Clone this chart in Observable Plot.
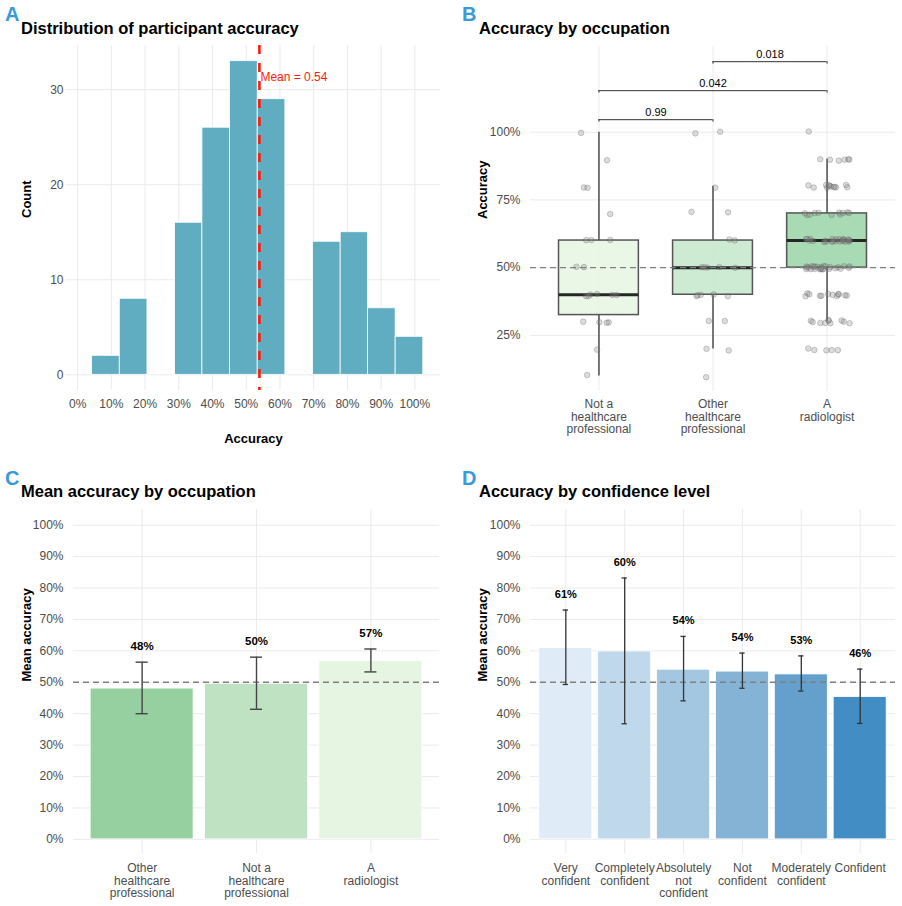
<!DOCTYPE html>
<html>
<head>
<meta charset="utf-8">
<script src="https://cdn.jsdelivr.net/npm/d3@7"></script>
<script src="https://cdn.jsdelivr.net/npm/@observablehq/plot@0.6"></script>
<style>
  body { margin: 0; background: #fff; font-family: "Liberation Sans", Arial, Helvetica, sans-serif; }
  #root { position: relative; width: 902px; height: 906px; overflow: hidden; background: #fff; }
  .panel { position: absolute; }
  .tag { position: absolute; font-weight: bold; font-size: 20px; line-height: 20px; color: #3a9ad9; }
  .title { position: absolute; font-weight: bold; font-size: 16.5px; line-height: 16.5px; color: #000; white-space: nowrap; }
</style>
</head>
<body>
<div id="root">
  <div class="tag" style="left:5px;top:4px">A</div>
  <div class="title" style="left:21px;top:20px">Distribution of participant accuracy</div>
  <div class="tag" style="left:462px;top:4px">B</div>
  <div class="title" style="left:479px;top:20px">Accuracy by occupation</div>
  <div class="tag" style="left:5px;top:468px">C</div>
  <div class="title" style="left:21px;top:483px">Mean accuracy by occupation</div>
  <div class="tag" style="left:462px;top:468px">D</div>
  <div class="title" style="left:479px;top:483px">Accuracy by confidence level</div>
  <div class="panel" id="pA" style="left:0px;top:40px"></div>
  <div class="panel" id="pB" style="left:450px;top:40px"></div>
  <div class="panel" id="pC" style="left:0px;top:500px"></div>
  <div class="panel" id="pD" style="left:450px;top:500px"></div>
</div>
<script>
// ---------------- Data ----------------
// Panel A: histogram of participant accuracy
const binStart = [0.043, 0.125, 0.207, 0.289, 0.370, 0.452, 0.534, 0.616, 0.698, 0.780, 0.861, 0.943];
const binEnd   = [0.125, 0.207, 0.289, 0.370, 0.452, 0.534, 0.616, 0.698, 0.780, 0.861, 0.943, 1.025];
const binCount = [2, 8, 0, 16, 26, 33, 29, 0, 14, 15, 7, 4];
const meanAccuracy = 0.539;
const histTicksX = [0, 0.1, 0.2, 0.3, 0.4, 0.5, 0.6, 0.7, 0.8, 0.9, 1.0];
const histTicksY = [0, 10, 20, 30];

// Panel B: boxplots by occupation
const occLabelsB = ["Not a\nhealthcare\nprofessional", "Other\nhealthcare\nprofessional", "A\nradiologist"];
const boxQ1 = [0.325, 0.40, 0.50];
const boxMedian = [0.40, 0.50, 0.60];
const boxQ3 = [0.60, 0.60, 0.70];
const whiskerLow = [0.10, 0.20, 0.30];
const whiskerHigh = [1.00, 0.80, 0.90];
const boxColors = ["#e6f4e2", "#c4e6ca", "#99d3a7"];
const accuracyLevels = [0.1, 0.2, 0.3, 0.4, 0.5, 0.6, 0.7, 0.8, 0.9, 1.0];
const countsNotHealthcare = [1, 1, 4, 6, 2, 3, 1, 2, 1, 1];
const countsOtherHealthcare = [1, 2, 2, 5, 5, 2, 2, 1, 0, 2];
const countsRadiologist = [0, 5, 10, 12, 26, 24, 11, 12, 6, 1];
const bracketFrom = [1, 1, 2];
const bracketTo = [2, 3, 3];
const bracketY = [1.046, 1.153, 1.26];
const bracketP = ["0.99", "0.042", "0.018"];
const ticksB = [0.25, 0.50, 0.75, 1.00];

// Panel C: mean accuracy by occupation
const occLabelsC = ["Other\nhealthcare\nprofessional", "Not a\nhealthcare\nprofessional", "A\nradiologist"];
const meanC = [0.480, 0.495, 0.567];
const lowC = [0.400, 0.414, 0.533];
const highC = [0.564, 0.580, 0.606];
const labelsC = ["48%", "50%", "57%"];
const colorsC = ["#97d0a0", "#bfe2c2", "#e5f5e1"];

// Panel D: accuracy by confidence level
const confLabelsD = ["Very\nconfident", "Completely\nconfident", "Absolutely\nnot\nconfident", "Not\nconfident", "Moderately\nconfident", "Confident"];
const meanD = [0.609, 0.598, 0.540, 0.534, 0.525, 0.453];
const lowD = [0.493, 0.368, 0.441, 0.481, 0.472, 0.369];
const highD = [0.730, 0.832, 0.646, 0.593, 0.584, 0.542];
const labelsD = ["61%", "60%", "54%", "54%", "53%", "46%"];
const colorsD = ["#dfebf6", "#c0d8ec", "#a3c6e1", "#85b3d6", "#64a0cb", "#428dc3"];

const ticksPct10 = [0, 0.1, 0.2, 0.3, 0.4, 0.5, 0.6, 0.7, 0.8, 0.9, 1.0];

// ---------------- Helpers ----------------
const FONT = '"Liberation Sans", Arial, Helvetica, sans-serif';
const GRID = "#ebebeb";
const pct = d3.format(".0%");
function mk(cfg) {
  return Plot.plot(Object.assign({}, cfg, {
    style: { fontFamily: FONT, fontSize: "12px", color: "#4d4d4d", background: "transparent", overflow: "visible" }
  }));
}
function yTitle(t, dx) {
  return Plot.text([t], { text: d => d, frameAnchor: "left", dx, rotate: -90, fontWeight: "bold", fontSize: 13, fill: "black" });
}
function xTitle(t, dy) {
  return Plot.text([t], { text: d => d, frameAnchor: "bottom", dy, fontWeight: "bold", fontSize: 13, fill: "black" });
}

// ---------------- Panel A ----------------
const binsA = binCount.map((c, i) => ({ x1: binStart[i], x2: binEnd[i], count: c })).filter(d => d.count > 0);
document.getElementById("pA").append(mk({
  width: 450, height: 415,
  marginLeft: 66, marginRight: 10, marginTop: 5, marginBottom: 65,
  x: { domain: [-0.033, 1.076] },
  y: { domain: [-1.65, 34.65] },
  marks: [
    Plot.gridX({ ticks: histTicksX, stroke: GRID, strokeOpacity: 1, strokeWidth: 1 }),
    Plot.gridY({ ticks: histTicksY, stroke: GRID, strokeOpacity: 1, strokeWidth: 1 }),
    Plot.rectY(binsA, { x1: "x1", x2: "x2", y1: 0, y2: "count", fill: "#60acc1", stroke: "white", strokeWidth: 0.8 }),
    Plot.ruleX([meanAccuracy], { x: d => d, stroke: "#ff1a0a", strokeWidth: 2.6, strokeDasharray: "9,9" }),
    Plot.text([meanAccuracy], { x: d => d, y: 31.3, text: d => "Mean = " + d3.format(".2f")(d), textAnchor: "start", dx: 1, fill: "#ff1a0a", fontSize: 12 }),
    Plot.axisX({ ticks: histTicksX, tickFormat: pct, tickSize: 0, tickPadding: 9, label: null, fontSize: 12 }),
    Plot.axisY({ ticks: histTicksY, tickSize: 0, tickPadding: 3, label: null, fontSize: 12 }),
    yTitle("Count", -40),
    xTitle("Accuracy", 52)
  ]
}));

// ---------------- Panel B ----------------
const boxesB = occLabelsB.map((l, i) => ({ g: i + 1, q1: boxQ1[i], med: boxMedian[i], q3: boxQ3[i], lo: whiskerLow[i], hi: whiskerHigh[i], color: boxColors[i] }));
const rng = d3.randomLcg(17);
const pointsB = [];
[countsNotHealthcare, countsOtherHealthcare, countsRadiologist].forEach((counts, gi) => {
  counts.forEach((n, li) => {
    for (let k = 0; k < n; k++) {
      pointsB.push({ g: gi + 1, v: accuracyLevels[li], jx: (rng() - 0.5) * 0.4, jy: (rng() - 0.5) * 0.012 });
    }
  });
});
const bracketsB = bracketP.map((p, i) => ({ from: bracketFrom[i], to: bracketTo[i], y: bracketY[i], p }));
const bracketEnds = bracketsB.flatMap(b => [{ x: b.from, y: b.y }, { x: b.to, y: b.y }]);
document.getElementById("pB").append(mk({
  width: 452, height: 415,
  marginLeft: 80, marginRight: 7, marginTop: 6, marginBottom: 64,
  x: { domain: [0.4, 3.6] },
  y: { domain: [0.043, 1.316] },
  marks: [
    Plot.gridX({ ticks: [1, 2, 3], stroke: GRID, strokeOpacity: 1, strokeWidth: 1 }),
    Plot.gridY({ ticks: ticksB, stroke: GRID, strokeOpacity: 1, strokeWidth: 1 }),
    Plot.ruleX(boxesB, { x: "g", y1: "lo", y2: "q1", stroke: "#4d4d4d", strokeWidth: 1.5 }),
    Plot.ruleX(boxesB, { x: "g", y1: "q3", y2: "hi", stroke: "#4d4d4d", strokeWidth: 1.5 }),
    Plot.rect(boxesB, { x1: d => d.g - 0.35, x2: d => d.g + 0.35, y1: "q1", y2: "q3", fill: "color", fillOpacity: 0.85, stroke: "#555", strokeWidth: 1.5 }),
    Plot.ruleY(boxesB, { x1: d => d.g - 0.35, x2: d => d.g + 0.35, y: "med", stroke: "#262626", strokeWidth: 3 }),
    Plot.ruleY([0.5], { y: d => d, stroke: "#808080", strokeWidth: 1.4, strokeDasharray: "6,4" }),
    Plot.dot(pointsB, { x: d => d.g + d.jx, y: d => d.v + d.jy, r: 2.8, fill: "#8a8a8a", fillOpacity: 0.3, stroke: "#555", strokeOpacity: 0.35, strokeWidth: 0.8 }),
    Plot.ruleY(bracketsB, { x1: "from", x2: "to", y: "y", stroke: "#333", strokeWidth: 1 }),
    Plot.ruleX(bracketEnds, { x: "x", y1: d => d.y - 0.009, y2: "y", stroke: "#333", strokeWidth: 1 }),
    Plot.text(bracketsB, { x: d => (d.from + d.to) / 2, y: d => d.y + 0.027, text: "p", fill: "black", fontSize: 11 }),
    Plot.axisX({ ticks: [1, 2, 3], tickFormat: i => occLabelsB[i - 1], tickSize: 0, tickPadding: 8, label: null, fontSize: 12, lineHeight: 1.03 }),
    Plot.axisY({ ticks: ticksB, tickFormat: pct, tickSize: 0, tickPadding: 10, label: null, fontSize: 12 }),
    yTitle("Accuracy", -48)
  ]
}));

// ---------------- Panel C ----------------
const dataC = occLabelsC.map((l, i) => ({ i: i + 1, m: meanC[i], lo: lowC[i], hi: highC[i], lab: labelsC[i], color: colorsC[i] }));
const capsC = dataC.flatMap(d => [{ i: d.i, y: d.lo }, { i: d.i, y: d.hi }]);
document.getElementById("pC").append(mk({
  width: 450, height: 406,
  marginLeft: 73, marginRight: 11, marginTop: 9, marginBottom: 53,
  x: { domain: [0.4, 3.6] },
  y: { domain: [-0.045, 1.05] },
  marks: [
    Plot.gridX({ ticks: [1, 2, 3], stroke: GRID, strokeOpacity: 1, strokeWidth: 1 }),
    Plot.gridY({ ticks: ticksPct10, stroke: GRID, strokeOpacity: 1, strokeWidth: 1 }),
    Plot.rectY(dataC, { x1: d => d.i - 0.45, x2: d => d.i + 0.45, y1: 0, y2: "m", fill: "color", stroke: "white", strokeWidth: 0.8 }),
    Plot.ruleY([0.5], { y: d => d, stroke: "#808080", strokeWidth: 1.4, strokeDasharray: "6,4" }),
    Plot.ruleX(dataC, { x: "i", y1: "lo", y2: "hi", stroke: "#444", strokeWidth: 1.4 }),
    Plot.ruleY(capsC, { x1: d => d.i - 0.053, x2: d => d.i + 0.053, y: "y", stroke: "#444", strokeWidth: 1.4 }),
    Plot.text(dataC, { x: "i", y: d => d.hi + 0.05, text: "lab", fill: "black", fontWeight: "bold", fontSize: 11.5 }),
    Plot.axisX({ ticks: [1, 2, 3], tickFormat: i => occLabelsC[i - 1], tickSize: 0, tickPadding: 10, label: null, fontSize: 12, lineHeight: 1.03 }),
    Plot.axisY({ ticks: ticksPct10, tickFormat: pct, tickSize: 0, tickPadding: 10, label: null, fontSize: 12 }),
    yTitle("Mean accuracy", -47)
  ]
}));

// ---------------- Panel D ----------------
const dataD = confLabelsD.map((l, i) => ({ i: i + 1, m: meanD[i], lo: lowD[i], hi: highD[i], lab: labelsD[i], color: colorsD[i] }));
const capsD = dataD.flatMap(d => [{ i: d.i, y: d.lo }, { i: d.i, y: d.hi }]);
const ticksD = [1, 2, 3, 4, 5, 6];
document.getElementById("pD").append(mk({
  width: 452, height: 406,
  marginLeft: 80, marginRight: 7, marginTop: 9, marginBottom: 53,
  x: { domain: [0.4, 6.6] },
  y: { domain: [-0.045, 1.05] },
  marks: [
    Plot.gridX({ ticks: ticksD, stroke: GRID, strokeOpacity: 1, strokeWidth: 1 }),
    Plot.gridY({ ticks: ticksPct10, stroke: GRID, strokeOpacity: 1, strokeWidth: 1 }),
    Plot.rectY(dataD, { x1: d => d.i - 0.45, x2: d => d.i + 0.45, y1: 0, y2: "m", fill: "color", stroke: "white", strokeWidth: 0.8 }),
    Plot.ruleY([0.5], { y: d => d, stroke: "#808080", strokeWidth: 1.4, strokeDasharray: "6,4" }),
    Plot.ruleX(dataD, { x: "i", y1: "lo", y2: "hi", stroke: "#333", strokeWidth: 1.3 }),
    Plot.ruleY(capsD, { x1: d => d.i - 0.045, x2: d => d.i + 0.045, y: "y", stroke: "#333", strokeWidth: 1.3 }),
    Plot.text(dataD, { x: "i", y: d => d.hi + 0.05, text: "lab", fill: "black", fontWeight: "bold", fontSize: 11 }),
    Plot.axisX({ ticks: ticksD, tickFormat: i => confLabelsD[i - 1], tickSize: 0, tickPadding: 10, label: null, fontSize: 12, lineHeight: 1.03 }),
    Plot.axisY({ ticks: ticksPct10, tickFormat: pct, tickSize: 0, tickPadding: 10, label: null, fontSize: 12 }),
    yTitle("Mean accuracy", -48)
  ]
}));
</script>
</body>
</html>
